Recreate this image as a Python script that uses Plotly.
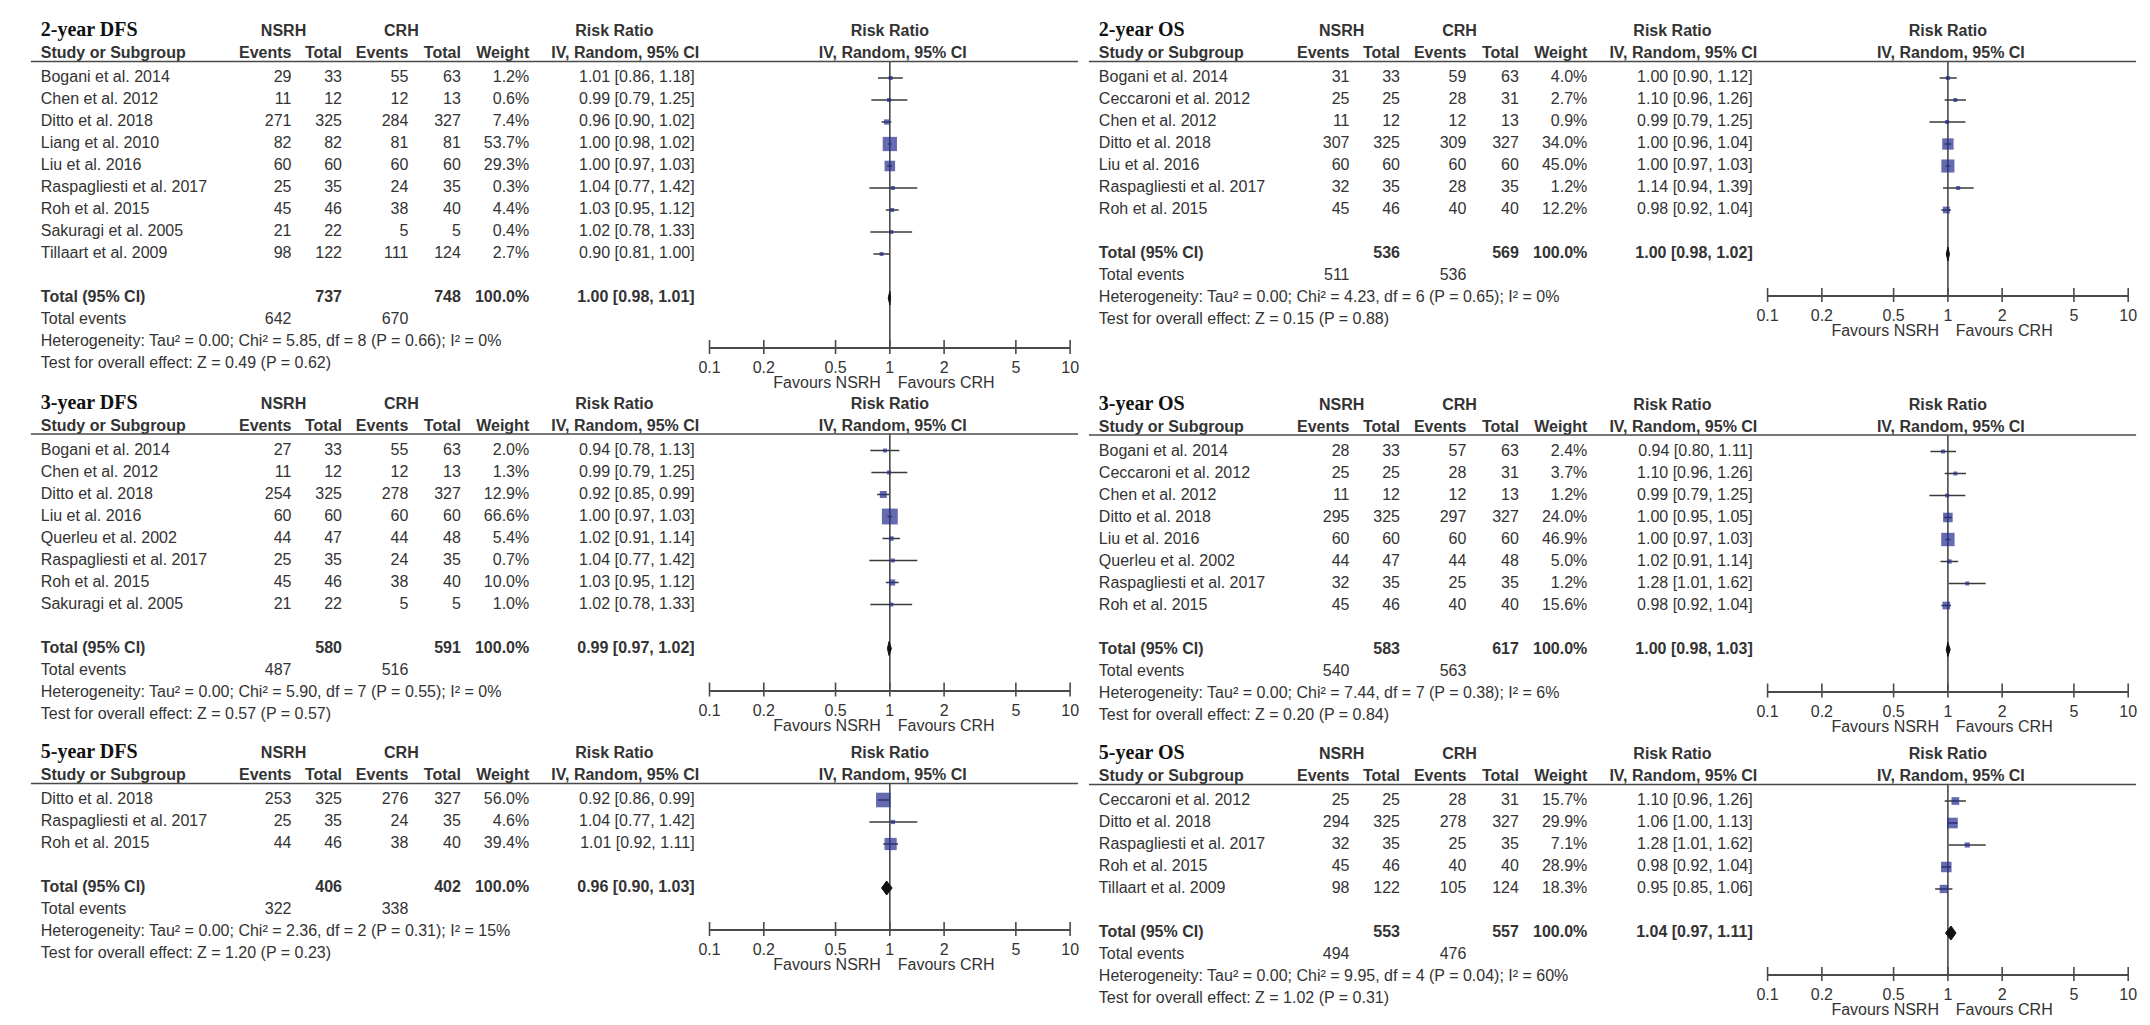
import plotly.graph_objects as go

# ------------------------------------------------------------------ data
# 2-year DFS
dfs2_study = ["Bogani et al. 2014", "Chen et al. 2012", "Ditto et al. 2018", "Liang et al. 2010",
              "Liu et al. 2016", "Raspagliesti et al. 2017", "Roh et al. 2015",
              "Sakuragi et al. 2005", "Tillaart et al. 2009"]
dfs2_e1 = [29, 11, 271, 82, 60, 25, 45, 21, 98]
dfs2_n1 = [33, 12, 325, 82, 60, 35, 46, 22, 122]
dfs2_e2 = [55, 12, 284, 81, 60, 24, 38, 5, 111]
dfs2_n2 = [63, 13, 327, 81, 60, 35, 40, 5, 124]
dfs2_w = [1.2, 0.6, 7.4, 53.7, 29.3, 0.3, 4.4, 0.4, 2.7]
dfs2_rr = [1.01, 0.99, 0.96, 1.00, 1.00, 1.04, 1.03, 1.02, 0.90]
dfs2_lo = [0.86, 0.79, 0.90, 0.98, 0.97, 0.77, 0.95, 0.78, 0.81]
dfs2_hi = [1.18, 1.25, 1.02, 1.02, 1.03, 1.42, 1.12, 1.33, 1.00]
dfs2_total = [737, 748, 642, 670]          # n1, n2, events1, events2
dfs2_pooled = [1.00, 0.98, 1.01]           # rr, lo, hi
dfs2_het = [0.00, 5.85, 8, 0.66, 0]        # tau2, chi2, df, p, i2
dfs2_z = [0.49, 0.62]                      # z, p

# 3-year DFS
dfs3_study = ["Bogani et al. 2014", "Chen et al. 2012", "Ditto et al. 2018", "Liu et al. 2016",
              "Querleu et al. 2002", "Raspagliesti et al. 2017", "Roh et al. 2015",
              "Sakuragi et al. 2005"]
dfs3_e1 = [27, 11, 254, 60, 44, 25, 45, 21]
dfs3_n1 = [33, 12, 325, 60, 47, 35, 46, 22]
dfs3_e2 = [55, 12, 278, 60, 44, 24, 38, 5]
dfs3_n2 = [63, 13, 327, 60, 48, 35, 40, 5]
dfs3_w = [2.0, 1.3, 12.9, 66.6, 5.4, 0.7, 10.0, 1.0]
dfs3_rr = [0.94, 0.99, 0.92, 1.00, 1.02, 1.04, 1.03, 1.02]
dfs3_lo = [0.78, 0.79, 0.85, 0.97, 0.91, 0.77, 0.95, 0.78]
dfs3_hi = [1.13, 1.25, 0.99, 1.03, 1.14, 1.42, 1.12, 1.33]
dfs3_total = [580, 591, 487, 516]
dfs3_pooled = [0.99, 0.97, 1.02]
dfs3_het = [0.00, 5.90, 7, 0.55, 0]
dfs3_z = [0.57, 0.57]

# 5-year DFS
dfs5_study = ["Ditto et al. 2018", "Raspagliesti et al. 2017", "Roh et al. 2015"]
dfs5_e1 = [253, 25, 44]
dfs5_n1 = [325, 35, 46]
dfs5_e2 = [276, 24, 38]
dfs5_n2 = [327, 35, 40]
dfs5_w = [56.0, 4.6, 39.4]
dfs5_rr = [0.92, 1.04, 1.01]
dfs5_lo = [0.86, 0.77, 0.92]
dfs5_hi = [0.99, 1.42, 1.11]
dfs5_total = [406, 402, 322, 338]
dfs5_pooled = [0.96, 0.90, 1.03]
dfs5_het = [0.00, 2.36, 2, 0.31, 15]
dfs5_z = [1.20, 0.23]

# 2-year OS
os2_study = ["Bogani et al. 2014", "Ceccaroni et al. 2012", "Chen et al. 2012", "Ditto et al. 2018",
             "Liu et al. 2016", "Raspagliesti et al. 2017", "Roh et al. 2015"]
os2_e1 = [31, 25, 11, 307, 60, 32, 45]
os2_n1 = [33, 25, 12, 325, 60, 35, 46]
os2_e2 = [59, 28, 12, 309, 60, 28, 40]
os2_n2 = [63, 31, 13, 327, 60, 35, 40]
os2_w = [4.0, 2.7, 0.9, 34.0, 45.0, 1.2, 12.2]
os2_rr = [1.00, 1.10, 0.99, 1.00, 1.00, 1.14, 0.98]
os2_lo = [0.90, 0.96, 0.79, 0.96, 0.97, 0.94, 0.92]
os2_hi = [1.12, 1.26, 1.25, 1.04, 1.03, 1.39, 1.04]
os2_total = [536, 569, 511, 536]
os2_pooled = [1.00, 0.98, 1.02]
os2_het = [0.00, 4.23, 6, 0.65, 0]
os2_z = [0.15, 0.88]

# 3-year OS
os3_study = ["Bogani et al. 2014", "Ceccaroni et al. 2012", "Chen et al. 2012", "Ditto et al. 2018",
             "Liu et al. 2016", "Querleu et al. 2002", "Raspagliesti et al. 2017", "Roh et al. 2015"]
os3_e1 = [28, 25, 11, 295, 60, 44, 32, 45]
os3_n1 = [33, 25, 12, 325, 60, 47, 35, 46]
os3_e2 = [57, 28, 12, 297, 60, 44, 25, 40]
os3_n2 = [63, 31, 13, 327, 60, 48, 35, 40]
os3_w = [2.4, 3.7, 1.2, 24.0, 46.9, 5.0, 1.2, 15.6]
os3_rr = [0.94, 1.10, 0.99, 1.00, 1.00, 1.02, 1.28, 0.98]
os3_lo = [0.80, 0.96, 0.79, 0.95, 0.97, 0.91, 1.01, 0.92]
os3_hi = [1.11, 1.26, 1.25, 1.05, 1.03, 1.14, 1.62, 1.04]
os3_total = [583, 617, 540, 563]
os3_pooled = [1.00, 0.98, 1.03]
os3_het = [0.00, 7.44, 7, 0.38, 6]
os3_z = [0.20, 0.84]

# 5-year OS
os5_study = ["Ceccaroni et al. 2012", "Ditto et al. 2018", "Raspagliesti et al. 2017",
             "Roh et al. 2015", "Tillaart et al. 2009"]
os5_e1 = [25, 294, 32, 45, 98]
os5_n1 = [25, 325, 35, 46, 122]
os5_e2 = [28, 278, 25, 40, 105]
os5_n2 = [31, 327, 35, 40, 124]
os5_w = [15.7, 29.9, 7.1, 28.9, 18.3]
os5_rr = [1.10, 1.06, 1.28, 0.98, 0.95]
os5_lo = [0.96, 1.00, 1.01, 0.92, 0.85]
os5_hi = [1.26, 1.13, 1.62, 1.04, 1.06]
os5_total = [553, 557, 494, 476]
os5_pooled = [1.04, 0.97, 1.11]
os5_het = [0.00, 9.95, 4, 0.04, 60]
os5_z = [1.02, 0.31]

panel_titles = ["2-year DFS", "3-year DFS", "5-year DFS", "2-year OS", "3-year OS", "5-year OS"]
group_labels = ["NSRH", "CRH"]
tick_values = [0.1, 0.2, 0.5, 1, 2, 5, 10]
tick_labels = ["0.1", "0.2", "0.5", "1", "2", "5", "10"]
favours_labels = ["Favours NSRH", "Favours CRH"]

# ------------------------------------------------------------------ layout constants
W, H = 2150, 1025
ROW = 22
COL_DX = [0, 1068]
FIRST_Y = [[70, 442.5, 792], [70, 443.5, 793]]
AXIS_GAP = [[49, 41, 41], [41, 41, 41]]
FAV_DY = 37
X_LINE0, X_LINE1 = 12, 1069
X_STUDY = 22
X_E1, X_N1, X_E2, X_N2, X_W = 275, 326, 393, 446, 515
X_NSRH, X_CRH = 267, 386
X_CI, X_RRH1, X_RRH2 = 682, 601, 612
X_F0, X_F1 = 697, 1061

FONT = "Liberation Sans, Arial, sans-serif"
TFONT = "Liberation Serif, Times New Roman, serif"
TXT = "#333333"
GRAY = "#4a4a4a"
BLUE = "#252c8f"
FS = 16

panels = [
    (dfs2_study, dfs2_e1, dfs2_n1, dfs2_e2, dfs2_n2, dfs2_w, dfs2_rr, dfs2_lo, dfs2_hi,
     dfs2_total, dfs2_pooled, dfs2_het, dfs2_z),
    (dfs3_study, dfs3_e1, dfs3_n1, dfs3_e2, dfs3_n2, dfs3_w, dfs3_rr, dfs3_lo, dfs3_hi,
     dfs3_total, dfs3_pooled, dfs3_het, dfs3_z),
    (dfs5_study, dfs5_e1, dfs5_n1, dfs5_e2, dfs5_n2, dfs5_w, dfs5_rr, dfs5_lo, dfs5_hi,
     dfs5_total, dfs5_pooled, dfs5_het, dfs5_z),
    (os2_study, os2_e1, os2_n1, os2_e2, os2_n2, os2_w, os2_rr, os2_lo, os2_hi,
     os2_total, os2_pooled, os2_het, os2_z),
    (os3_study, os3_e1, os3_n1, os3_e2, os3_n2, os3_w, os3_rr, os3_lo, os3_hi,
     os3_total, os3_pooled, os3_het, os3_z),
    (os5_study, os5_e1, os5_n1, os5_e2, os5_n2, os5_w, os5_rr, os5_lo, os5_hi,
     os5_total, os5_pooled, os5_het, os5_z),
]

fig = go.Figure()


def add_text(xs, ys, texts, pos, bold=False, size=FS, color=TXT, family=FONT):
    if bold:
        texts = ["<b>%s</b>" % t for t in texts]
    fig.add_trace(go.Scatter(
        x=xs, y=ys, text=texts, mode="text", textposition=pos,
        textfont=dict(family=family, size=size, color=color),
        xaxis="x", yaxis="y", hoverinfo="skip", showlegend=False, cliponaxis=False))


layout_axes = {}
for k, (study, e1, n1, e2, n2, w, rr, lo, hi, tot, pooled, het, z) in enumerate(panels):
    col, rowblk = k // 3, k % 3
    dx = COL_DX[col]
    y0 = FIRST_Y[col][rowblk]
    n = len(study)
    rows_y = [y0 + i * ROW for i in range(n)]
    total_y = y0 + (n + 1) * ROW
    line_y = y0 - 16.5
    title_y = y0 - 47
    head_y = y0 - 24
    axis_y = total_y + AXIS_GAP[col][rowblk]
    x_one = dx + (X_F0 + X_F1) / 2

    # titles / headers
    add_text([dx + X_STUDY], [title_y], [panel_titles[k]], "middle right", bold=True,
             size=20, color="#111111", family=TFONT)
    add_text([dx + X_NSRH, dx + X_CRH, dx + X_RRH1, x_one], [title_y + 1] * 4,
             group_labels + ["Risk Ratio", "Risk Ratio"], "middle center", bold=True)
    add_text([dx + X_STUDY], [head_y], ["Study or Subgroup"], "middle right", bold=True)
    add_text([dx + X_E1, dx + X_N1, dx + X_E2, dx + X_N2, dx + X_W], [head_y] * 5,
             ["Events", "Total", "Events", "Total", "Weight"], "middle left", bold=True)
    add_text([dx + X_RRH2, x_one + 3], [head_y] * 2,
             ["IV, Random, 95% CI", "IV, Random, 95% CI"], "middle center", bold=True)
    fig.add_trace(go.Scatter(x=[dx + X_LINE0, dx + X_LINE1], y=[line_y, line_y], mode="lines",
                             line=dict(color=GRAY, width=1.6), xaxis="x", yaxis="y",
                             hoverinfo="skip", showlegend=False))

    # study rows
    add_text([dx + X_STUDY] * n, rows_y, study, "middle right")
    for xc, vals in ((X_E1, e1), (X_N1, n1), (X_E2, e2), (X_N2, n2)):
        add_text([dx + xc] * n, rows_y, [str(v) for v in vals], "middle left")
    add_text([dx + X_W] * n, rows_y, ["%.1f%%" % v for v in w], "middle left")
    add_text([dx + X_CI] * n, rows_y,
             ["%.2f [%.2f, %.2f]" % (a, b, c) for a, b, c in zip(rr, lo, hi)], "middle left")

    # totals
    add_text([dx + X_STUDY], [total_y], ["Total (95% CI)"], "middle right", bold=True)
    add_text([dx + X_N1, dx + X_N2, dx + X_W, dx + X_CI], [total_y] * 4,
             [str(tot[0]), str(tot[1]), "100.0%",
              "%.2f [%.2f, %.2f]" % tuple(pooled)], "middle left", bold=True)
    add_text([dx + X_STUDY], [total_y + ROW], ["Total events"], "middle right")
    add_text([dx + X_E1, dx + X_E2], [total_y + ROW] * 2, [str(tot[2]), str(tot[3])], "middle left")
    het_txt = "Heterogeneity: Tau² = %.2f; Chi² = %.2f, df = %d (P = %.2f); I² = %d%%" % tuple(het)
    z_txt = "Test for overall effect: Z = %.2f (P = %.2f)" % tuple(z)
    add_text([dx + X_STUDY, dx + X_STUDY], [total_y + 2 * ROW, total_y + 3 * ROW],
             [het_txt, z_txt], "middle right")

    # favours labels
    add_text([x_one - 9], [axis_y + FAV_DY], [favours_labels[0]], "middle left")
    add_text([x_one + 8], [axis_y + FAV_DY], [favours_labels[1]], "middle right")

    # forest subplot
    ax = k + 2
    xa, ya = "x%d" % ax, "y%d" % ax
    layout_axes["xaxis%d" % ax] = dict(
        type="log", range=[-1, 1], domain=[(dx + X_F0) / W, (dx + X_F1) / W], anchor=ya,
        showline=True, linecolor=GRAY, linewidth=1.6, ticks="", showgrid=False, zeroline=False,
        tickvals=tick_values, ticktext=tick_labels, ticklabelstandoff=5,
        tickfont=dict(family=FONT, size=FS, color=TXT), fixedrange=True)
    layout_axes["yaxis%d" % ax] = dict(
        domain=[1 - axis_y / H, 1 - line_y / H], range=[axis_y, line_y], anchor=xa,
        visible=False, showgrid=False, zeroline=False, fixedrange=True)

    # line of no effect
    fig.add_trace(go.Scatter(x=[1, 1], y=[line_y, axis_y], mode="lines",
                             line=dict(color=GRAY, width=1.6), xaxis=xa, yaxis=ya,
                             hoverinfo="skip", showlegend=False, cliponaxis=False))
    # tick crosses
    fig.add_trace(go.Scatter(x=tick_values, y=[axis_y] * len(tick_values), mode="markers",
                             marker=dict(symbol="line-ns", size=10,
                                         line=dict(color=GRAY, width=1.6)),
                             xaxis=xa, yaxis=ya, hoverinfo="skip", showlegend=False,
                             cliponaxis=False))
    # confidence intervals
    cx, cy = [], []
    for a, b, yy in zip(lo, hi, rows_y):
        cx += [a, b, None]
        cy += [yy, yy, None]
    fig.add_trace(go.Scatter(x=cx, y=cy, mode="lines", line=dict(color="#3a3a3a", width=1.3),
                             xaxis=xa, yaxis=ya, hoverinfo="skip", showlegend=False,
                             cliponaxis=False))
    # weight squares
    fig.add_trace(go.Scatter(x=rr, y=rows_y, mode="markers",
                             marker=dict(symbol="square", color=BLUE,
                                         size=[max(4, 1.95 * v ** 0.5) for v in w],
                                         line=dict(width=0)),
                             xaxis=xa, yaxis=ya, hoverinfo="skip", showlegend=False,
                             cliponaxis=False))
    # pooled diamond
    p_rr, p_lo, p_hi = pooled
    fig.add_trace(go.Scatter(x=[p_lo, p_rr, p_hi, p_rr, p_lo],
                             y=[total_y, total_y - 7, total_y, total_y + 7, total_y],
                             mode="lines", fill="toself", fillcolor="#111111",
                             line=dict(color="#111111", width=1),
                             xaxis=xa, yaxis=ya, hoverinfo="skip", showlegend=False,
                             cliponaxis=False))

fig.update_layout(
    width=W, height=H, margin=dict(l=0, r=0, t=0, b=0),
    paper_bgcolor="white", plot_bgcolor="rgba(0,0,0,0)", showlegend=False,
    xaxis=dict(domain=[0, 1], range=[0, W], visible=False, fixedrange=True),
    yaxis=dict(domain=[0, 1], range=[H, 0], visible=False, fixedrange=True),
    **layout_axes)

fig.write_html("out.html")
